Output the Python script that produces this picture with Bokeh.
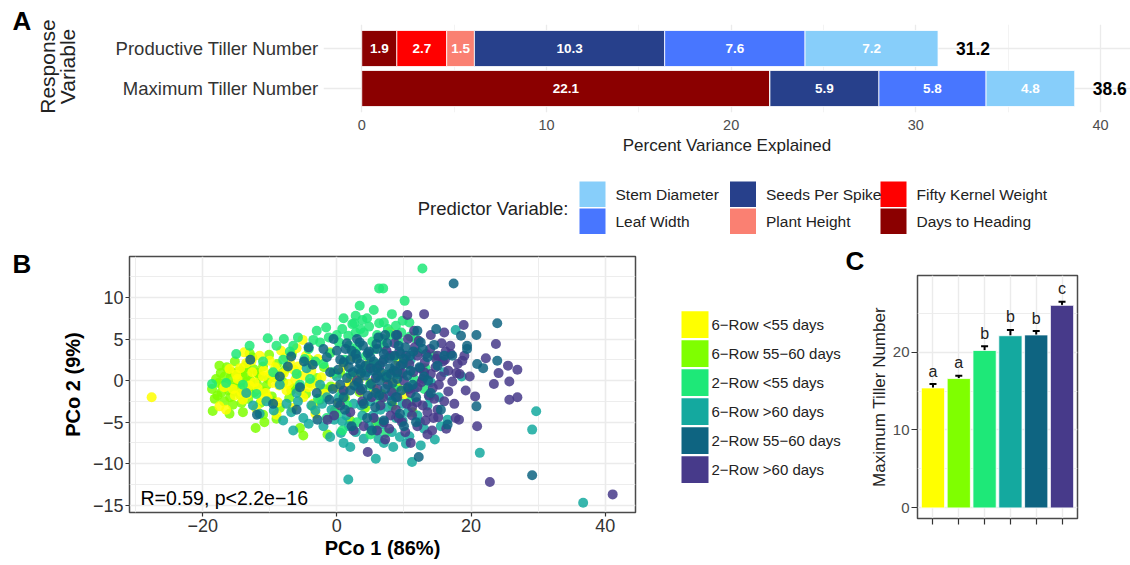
from bokeh.plotting import figure
from bokeh.models import ColumnDataSource, Range1d, FixedTicker, Label, Whisker, TeeHead
from bokeh.layouts import column, row
from bokeh.core.properties import value
from bokeh.embed import file_html
from bokeh.resources import INLINE

FONT = "Liberation Sans"
M = "\u2212"

# ---------------- Panel A data ----------------
responses = ["Maximum Tiller Number", "Productive Tiller Number"]
predictors = ["Days to Heading", "Fifty Kernel Weight", "Plant Height",
              "Seeds Per Spike", "Leaf Width", "Stem Diameter"]
days_to_heading = [22.1, 1.9]
fifty_kernel_weight = [0.0, 2.7]
plant_height = [0.0, 1.5]
seeds_per_spike = [5.9, 10.3]
leaf_width = [5.8, 7.6]
stem_diameter = [4.8, 7.2]
totals = [38.6, 31.2]
legend_order = ["Stem Diameter", "Leaf Width", "Seeds Per Spike",
                "Plant Height", "Fifty Kernel Weight", "Days to Heading"]
pred_colors = {"Stem Diameter": "#87CEFA", "Leaf Width": "#4876FF",
               "Seeds Per Spike": "#27408B", "Plant Height": "#FA8072",
               "Fifty Kernel Weight": "#FF0000", "Days to Heading": "#8B0000"}

# ---------------- Panel B / C data ----------------
group_labels = ["6\u2212Row <55 days", "6\u2212Row 55\u221260 days", "2\u2212Row <55 days",
                "6\u2212Row >60 days", "2\u2212Row 55\u221260 days", "2\u2212Row >60 days"]
group_colors = ["#FFFF00", "#7FFF00", "#1EE878", "#14A99F", "#0E6481", "#473A8A"]

pts_6row_lt55 = [(-27.6,-2.0),(-17.5,-3.1),(-16.0,1.4),(-15.5,-1.0),(-14.8,0.2),(-14.0,-2.3),(-13.5,2.1),
    (-13.0,-0.6),(-12.6,1.0),(-12.0,-3.4),(-11.5,3.0),(-11.0,0.5),(-10.6,-1.5),(-10.0,2.4),(-9.6,-0.3),
    (-9.2,1.6),(-8.8,-2.6),(-8.3,3.6),(-7.9,0.9),(-7.5,-1.2),(-7.0,2.2),(-6.6,-3.3),(-6.2,0.1),(-5.8,1.7),
    (-5.1,4.9),(-5.0,-2.0),(-4.6,3.0),(-4.2,-0.8),(-3.8,1.2),(-3.2,-4.0),(-2.8,2.6),(-2.3,0.4),(-1.8,-1.6),
    (-1.0,3.4),(-0.5,0.8),(0.3,-2.6),(1.0,1.8),(1.8,-0.5),(2.5,2.8),(3.3,0.2),(4.7,2.0),(5.5,-1.0),
    (6.3,1.1),(7.9,5.9),(8.5,-0.2),(10.0,-1.9),(9.2,2.3),(-16.5,-3.5),(-13.8,3.4),(-11.2,-2.3),(-9.0,-4.1),
    (-6.0,3.9),(-3.5,-2.8),(-14.2,-1.4),(-12.3,-0.2),
    (-15.2,-1.8),(-14.4,1.5),(-13.3,-1.6),(-12.7,2.4),(-11.8,-0.9),(-10.9,1.2),(-10.3,-2.1),(-9.8,0.8),
    (-8.6,-0.6),(-7.7,2.8),(-7.2,-0.4),(-6.4,1.3),(-5.5,-1.2),(-4.9,0.6),(-4.0,2.0),(-3.0,-0.5),
    (-16.8,-0.8),(-15.0,0.7),(0.0,-0.8),(2.0,0.0)]
pts_6row_5560 = [(-18.5,-3.65),(-18.6,-1.0),(-18.0,0.2),(-17.8,-1.8),(-17.3,0.9),(-17.0,-0.6),(-16.8,-2.5),
    (-16.4,1.6),(-16.1,-1.2),(-15.8,0.4),(-15.5,-2.9),(-15.2,2.3),(-15.0,-0.2),(-14.7,1.1),(-14.4,-1.7),
    (-14.1,0.6),(-13.8,-0.9),(-13.5,1.8),(-13.2,-2.2),(-12.9,0.0),(-12.6,2.8),(-12.3,-1.4),(-12.1,-5.7),
    (-11.8,0.9),(-11.4,-2.7),(-11.0,1.7),(-10.8,-5.0),(-10.5,-0.6),(-10.1,3.1),(-9.7,-1.9),(-9.3,0.4),
    (-8.9,2.0),(-8.5,-3.3),(-8.0,-0.2),(-7.6,1.4),(-7.1,-2.1),(-6.7,3.2),(-6.3,-0.9),(-5.9,0.8),(-5.5,-5.7),
    (-5.0,-6.6),(-4.6,-1.6),(-4.1,2.5),(-3.6,-3.1),(-3.0,0.3),(-2.5,-2.3),(-1.9,1.6),(-1.4,-6.5),(-0.9,-0.7),
    (-0.3,-3.6),(0.5,0.9),(1.2,-2.1),(2.0,-4.8),(2.7,0.5),(3.4,-1.4),(4.2,-3.3),(5.0,-0.3),(5.8,-5.3),
    (6.6,-1.6),(7.4,0.2),(8.3,-3.0),(9.0,-0.8),(10.4,-1.0),(11.3,-3.8),(-17.5,1.8),(-16.0,-4.0),(-14.0,-3.8),
    (-11.0,-4.1),(-13.0,3.3),(-9.0,-4.6),
    (-18.2,-2.2),(-17.6,-0.3),(-17.2,-1.4),(-16.7,0.5),(-16.3,-0.4),(-15.9,-2.0),(-15.6,1.0),(-15.2,-1.3),
    (-14.9,-0.7),(-14.5,0.9),(-14.2,-2.7),(-13.9,1.5),(-13.6,-0.2),(-13.3,0.7),(-12.8,-1.0),(-12.4,1.4),
    (-11.9,-0.4),(-11.5,0.6),(-10.9,-1.3),(-10.2,0.2),(-9.5,-2.5),(-8.2,0.9),(-6.8,-1.2),(-4.0,-0.3),
    (-2.0,-1.0)]
pts_2row_lt55 = [(-18.6,-0.4),(-15.0,3.2),(-13.0,4.2),(-10.3,5.1),(-7.9,5.0),(-12.0,-1.6),(-9.5,1.0),
    (-6.5,4.2),(-5.5,-0.5),(-4.8,2.6),(-3.5,4.9),(-2.8,-2.2),(-1.6,6.4),(-1.0,3.3),(-0.5,1.0),(0.3,4.6),
    (0.8,-1.5),(1.2,2.5),(1.7,5.4),(2.3,6.8),(2.6,6.9),(2.8,7.8),(3.4,9.0),(3.0,4.0),(3.7,1.2),(4.0,5.8),
    (4.4,3.0),(4.9,-0.6),(5.3,4.7),(5.8,2.0),(6.3,6.9),(6.3,11.1),(6.9,11.1),(7.0,4.1),(7.5,0.7),(8.0,5.5),
    (8.2,8.0),(8.6,2.9),(9.2,4.8),(9.8,7.2),(10.1,9.6),(10.4,2.0),(10.9,5.3),(11.5,0.2),(12.0,3.4),
    (12.75,13.5),(13.2,1.5),(-4.0,0.2),(-2.0,2.0),(0.0,-4.0),(1.5,-3.0),(3.0,-5.0),(2.0,0.8),(4.5,7.5),
    (5.5,8.5),(6.0,5.5),(7.0,7.0),(-8.0,2.5),(-11.0,2.3),(-14.0,-0.5),(-16.5,-0.3),(-3.0,6.0),(0.0,5.5),
    (1.0,7.5),(3.5,6.2),(4.8,1.8),(6.5,-2.5),(8.5,-1.0),(9.5,0.8),(11.0,-2.5),(13.0,-1.0),(14.5,3.0),
    (2.5,3.5),(-1.5,-4.5),(0.8,-6.0),(5.0,-6.5),(6.2,-5.0),(7.3,-6.3),
    (-9.0,4.2),(-7.0,3.5),(-5.8,5.2),(-4.2,3.8),(-2.5,4.6),(-1.2,5.2),(0.8,6.2),(1.8,4.2),(2.8,5.8),
    (3.8,7.3),(4.8,6.5),(5.6,3.8),(6.8,5.0),(7.6,6.2),(8.8,6.6),(9.6,5.8),(10.8,7.0),(11.8,5.0),
    (-6.0,0.8),(-3.2,2.3)]
pts_6row_gt60 = [(-11.5,-4.0),(-9.4,-3.6),(-7.5,-2.8),(-6.0,-1.5),(-5.0,-4.5),(-3.8,-3.0),(-2.5,-0.5),
    (-1.5,-2.0),(-0.4,-4.7),(0.6,-6.3),(0.8,-4.9),(1.8,-5.5),(1.7,-11.9),(2.5,-2.8),(3.2,-0.8),(3.8,-4.2),
    (4.5,1.0),(5.0,-2.5),(5.8,-9.4),(5.9,-6.0),(6.5,-3.5),(7.2,0.5),(7.8,-1.8),(8.4,-8.0),(8.8,-4.5),
    (9.4,-6.8),(9.8,-2.8),(10.3,-7.6),(10.8,-6.7),(11.2,-9.8),(11.5,-1.0),(12.0,-4.2),(12.8,1.5),(13.5,-3.0),
    (14.0,-0.2),(14.6,-7.1),(15.2,-2.0),(16.5,-4.7),(17.7,6.1),(18.6,0.5),(21.3,-8.7),(29.7,-3.7),(29.1,-5.9),
    (36.7,-14.7),(-8.5,-0.5),(-10.5,-2.5),(-4.5,1.5),(0.0,0.5),(2.0,-8.0),(4.0,-7.0),(6.8,-5.3),(9.0,0.8),
    (11.0,2.5),(13.0,-5.8),(15.5,-5.5),(3.0,3.0),(7.0,-7.5),(-2.0,-5.5),(-6.5,-6.0),(-1.0,-6.8),(1.0,-7.5),
    (16.0,1.0),(12.5,-7.8),(-13.5,-1.5),(-12.5,-3.0),
    (-8.0,-4.8),(-6.8,-3.8),(-5.8,-2.5),(-4.2,-5.2),(-3.2,-3.6),(-2.2,-2.8),(-0.8,-3.5),(0.3,-2.0),
    (1.4,-4.2),(2.8,-6.2),(3.6,-3.0),(4.8,-5.5),(5.4,-4.2),(6.2,-7.0),(7.6,-3.2),(8.2,-6.2),(9.8,-4.8),
    (10.6,-3.8),(12.4,-5.0),(13.8,-2.0)]
pts_2row_5560 = [(-12.9,2.5),(-11.9,-4.1),(-7.3,1.7),(-6.8,2.9),(-4.9,2.3),(-3.6,1.9),(-2.9,-4.7),
    (-1.1,-2.3),(0.1,-2.7),(-2.0,3.8),(-1.0,1.0),(0.0,3.6),(0.5,-0.5),(1.0,2.2),(1.5,4.5),(2.0,-1.2),
    (2.4,1.0),(2.8,3.2),(3.2,-0.2),(3.5,2.0),(3.9,4.2),(4.2,0.6),(4.6,-1.8),(5.0,2.8),(5.4,1.2),(5.7,-3.2),
    (6.0,3.8),(6.4,0.0),(6.8,2.2),(7.2,-1.0),(7.5,4.5),(7.9,1.5),(8.2,-2.5),(8.6,3.0),(9.0,0.2),(9.4,-4.0),
    (9.8,2.0),(10.2,4.0),(10.6,-0.8),(11.0,1.2),(11.4,3.5),(11.8,-2.0),(12.2,-9.2),(12.5,4.6),(13.0,0.5),
    (13.5,2.8),(14.0,-1.5),(14.5,4.3),(15.0,1.8),(15.5,-3.5),(16.0,3.0),(17.2,3.0),(17.4,11.7),(18.5,5.4),
    (19.4,4.2),(19.4,3.8),(20.8,5.5),(20.9,2.0),(21.8,1.5),(20.8,-3.1),(23.9,6.9),(23.9,2.4),(29.1,-11.4),
    (-8.5,0.5),(-5.5,-0.8),(-3.0,-1.5),(-0.5,5.0),(1.2,-3.5),(3.0,5.0),(4.5,-4.5),(6.2,5.2),(7.0,-4.8),
    (8.8,5.5),(10.0,-5.5),(12.0,6.0),(14.8,6.2),(16.5,-5.3),(-9.5,-2.8),(-6.0,-3.5),(2.2,-5.5),(5.2,-6.0),
    (1.5,0.3),(3.6,0.9),(6.0,1.5),(8.0,0.8),(9.5,3.2),(4.8,3.5),(2.0,2.5),(11.8,-5.0),(-4.2,4.0),
    (0.5,2.5),(1.3,3.8),(1.8,1.6),(2.6,-0.6),(3.0,2.6),(3.4,4.6),(3.8,-1.0),(4.3,1.8),(4.6,3.3),(5.1,-0.4),
    (5.5,2.3),(5.9,4.4),(6.3,-1.8),(6.6,1.0),(7.0,3.2),(7.4,0.4),(7.8,2.7),(8.3,-0.3),(8.7,1.8),(9.2,4.2),
    (9.6,-1.2),(10.0,2.6),(10.5,0.6),(10.9,3.0),(11.3,-0.5),(12.3,1.6),(12.8,3.8),(13.6,0.0),(-1.5,2.8),
    (-0.6,-1.0),(0.2,1.3),(1.0,-2.0),(2.2,3.6),(4.0,-2.8),(5.8,-1.5),(7.2,5.5),(8.8,-2.0),(3.2,1.4),
    (6.0,0.6),(9.0,1.0)]
pts_2row_gt60 = [(-1.4,-4.7),(-0.4,-4.2),(1.0,-1.2),(2.0,-3.8),(3.0,0.0),(3.8,-2.5),(4.6,-8.6),
    (5.0,1.5),(5.5,-4.5),(6.0,-1.0),(6.5,-3.0),(7.0,2.5),(7.2,-7.1),(7.6,-0.5),(8.0,-4.2),(8.5,1.2),
    (9.0,-2.0),(9.3,3.5),(9.7,-5.0),(10.0,0.0),(10.5,7.9),(10.4,-2.8),(10.8,2.0),(11.2,-4.2),(11.6,4.0),
    (12.0,-0.8),(12.4,1.5),(12.8,-3.0),(13.0,8.0),(13.3,3.2),(13.7,-1.8),(14.0,0.8),(14.4,-4.5),(14.8,2.6),
    (15.2,-0.5),(15.6,4.5),(16.0,-2.5),(16.3,-5.8),(16.6,1.2),(16.9,4.2),(17.2,-0.1),(17.7,-4.5),(18.0,2.0),
    (18.2,-4.7),(18.7,2.4),(18.9,6.7),(19.2,-1.2),(20.6,-1.9),(20.9,-5.5),(22.2,2.7),(23.4,-0.4),(23.7,4.4),
    (24.1,0.9),(25.5,1.8),(25.7,-0.1),(25.7,-2.3),(26.9,1.3),(26.9,-2.0),(22.8,-12.2),(41.1,-13.7),
    (11.0,-7.5),(13.5,-6.5),(15.0,-3.5),(9.0,5.5),(11.5,6.0),(14.0,5.5),(16.0,5.8),(12.0,3.0),(8.0,3.0),
    (6.0,-6.0),(4.0,-5.5),(2.5,-6.0),(17.8,0.9),(19.8,0.5),(15.8,2.3),(13.2,-4.8),(10.2,-6.2),(7.8,-5.8),
    (9.5,1.8),(11.0,-1.5),(12.8,0.2),(14.5,-2.2),(16.2,3.5),(5.2,-2.0),(3.5,-1.2),(0.5,-3.0),
    (5.8,0.3),(6.4,1.8),(6.9,-2.0),(7.4,3.6),(8.2,-1.4),(8.8,-3.5),(9.8,0.9),(10.3,3.0),(10.7,-1.0),
    (11.4,1.0),(11.9,-2.6),(12.2,4.8),(12.6,-0.2),(13.1,2.2),(13.5,-3.8),(13.9,3.8),(14.3,-0.9),(14.7,1.6),
    (15.1,-4.4),(15.5,0.5),(16.1,2.5),(16.6,-1.3),(17.0,3.2),(17.5,-2.8),(18.3,0.8),(19.0,3.0),(10.6,5.0),
    (9.2,-4.5),(12.0,-5.5),(14.2,-6.0),(7.0,-5.0),(8.6,4.5),(11.2,-3.2),(15.0,3.0),(13.0,1.0)]
group_points = [pts_6row_lt55, pts_6row_5560, pts_2row_lt55, pts_6row_gt60, pts_2row_5560, pts_2row_gt60]
draw_order = [1, 0, 3, 2, 5, 4]

tiller_mean = [15.4, 16.6, 20.2, 22.1, 22.2, 26.0]
tiller_se = [0.5, 0.35, 0.55, 0.75, 0.5, 0.45]
tiller_letters = ["a", "a", "b", "b", "b", "c"]


def make_fig(**kw):
    p = figure(output_backend="svg", toolbar_location=None, frame_align=False, **kw)
    p.background_fill_color = "white"
    p.border_fill_color = "white"
    return p


def pixel_fig(x0, x1, y0, y1):
    p = make_fig(width=x1 - x0, height=y1 - y0, x_range=Range1d(x0, x1), y_range=Range1d(y1, y0),
                 x_axis_type=None, y_axis_type=None, min_border=0)
    p.outline_line_color = None
    p.grid.visible = False
    return p


def put_text(p, xs, ys, texts, size, bold=False, angle=0.0, align="left", color="black"):
    p.text(x=xs, y=ys, text=texts, angle=angle, text_align=align, text_baseline="middle",
           text_color=color, text_font_size=size, text_font=value(FONT),
           text_font_style="bold" if bold else "normal")


# ================= Panel A =================
pTL = pixel_fig(0, 100, 0, 165)
put_text(pTL, [12], [20], ["A"], "26px", bold=True)
put_text(pTL, [47, 67], [66, 66], ["Response", "Variable"], "21px", angle=1.5708,
         align="center", color="#222222")

pA = make_fig(width=1030, height=165, x_range=Range1d(-2.07, 41.62), y_range=Range1d(0.4, 2.6),
              min_border_left=223, min_border_right=0, min_border_top=24, min_border_bottom=53)
pA.outline_line_color = None
pred_values = {"Days to Heading": days_to_heading, "Fifty Kernel Weight": fifty_kernel_weight,
               "Plant Height": plant_height, "Seeds Per Spike": seeds_per_spike,
               "Leaf Width": leaf_width, "Stem Diameter": stem_diameter}
ypos = list(range(1, len(responses) + 1))
srcA = ColumnDataSource(dict(y=ypos, **pred_values))
pA.hbar_stack(predictors, y="y", height=0.9, color=[pred_colors[k] for k in predictors],
              line_color="white", line_width=0.8, source=srcA)

lx, ly, lt = [], [], []
for i in range(len(responses)):
    left = 0.0
    for k in predictors:
        v = pred_values[k][i]
        if v > 0:
            lx.append(left + v / 2)
            ly.append(ypos[i])
            lt.append(f"{v:.1f}")
        left += v
pA.text(x=lx, y=ly, text=lt, text_align="center", text_baseline="middle",
        text_color="white", text_font_style="bold", text_font_size="13.5px",
        text_font=value(FONT))
pA.text(x=totals, y=ypos, text=[f"{t:.1f}" for t in totals], x_offset=18,
        text_align="left", text_baseline="middle", text_color="black",
        text_font_style="bold", text_font_size="17.5px", text_font=value(FONT))

pA.xaxis.ticker = FixedTicker(ticks=[0, 10, 20, 30, 40], minor_ticks=[5, 15, 25, 35])
pA.yaxis.ticker = FixedTicker(ticks=ypos)
pA.yaxis.major_label_overrides = {ypos[i]: responses[i] for i in range(len(responses))}
for ax in (pA.xaxis[0], pA.yaxis[0]):
    ax.axis_line_color = None
    ax.major_tick_line_color = None
    ax.minor_tick_line_color = None
    ax.major_tick_in = 0
    ax.major_tick_out = 0
    ax.minor_tick_in = 0
    ax.minor_tick_out = 0
    ax.major_label_text_font = FONT
pA.xaxis.major_label_text_font_size = "14.5px"
pA.xaxis.major_label_text_color = "#4D4D4D"
pA.xaxis.major_label_standoff = 7
pA.xaxis.axis_label = "Percent Variance Explained"
pA.xaxis.axis_label_text_font = FONT
pA.xaxis.axis_label_text_font_size = "17px"
pA.xaxis.axis_label_text_font_style = "normal"
pA.xaxis.axis_label_text_color = "#222222"
pA.xaxis.axis_label_standoff = 3
pA.yaxis.major_label_text_font_size = "18.5px"
pA.yaxis.major_label_text_color = "#333333"
pA.yaxis.major_label_standoff = 5
pA.xgrid.grid_line_color = "#EBEBEB"
pA.xgrid.grid_line_width = 1.3
pA.xgrid.minor_grid_line_color = "#F2F2F2"
pA.xgrid.minor_grid_line_width = 0.9
pA.ygrid.grid_line_color = "#EBEBEB"
pA.ygrid.grid_line_width = 1.3

# ================= Panel A legend =================
pLA = pixel_fig(0, 1130, 165, 243)
kl = [579 + 150.5 * (i // 2) for i in range(len(legend_order))]
kt = [181 + 27 * (i % 2) for i in range(len(legend_order))]
pLA.quad(left=kl, right=[v + 26 for v in kl], top=kt, bottom=[v + 25.5 for v in kt],
         fill_color=[pred_colors[k] for k in legend_order], line_color=None)
put_text(pLA, [v + 36 for v in kl], [v + 13 for v in kt], legend_order, "15.5px", color="#222222")
put_text(pLA, [568], [207.5], ["Predictor Variable:"], "18.5px", align="right", color="#222222")

# ================= Panel B =================
pBL = pixel_fig(0, 58, 243, 565)
put_text(pBL, [12], [263], ["B"], "26px", bold=True)

pB = make_fig(width=587, height=322, x_range=Range1d(-30.9, 44.5), y_range=Range1d(-15.88, 14.94),
              min_border_left=70, min_border_right=10, min_border_top=13, min_border_bottom=53)
pB.outline_line_color = "#4A4A4A"
pB.outline_line_width = 1.5
pB.xaxis.ticker = FixedTicker(ticks=[-20, 0, 20, 40], minor_ticks=[-30, -10, 10, 30])
pB.yaxis.ticker = FixedTicker(ticks=[-15, -10, -5, 0, 5, 10],
                              minor_ticks=[-12.5, -7.5, -2.5, 2.5, 7.5, 12.5])
pB.xaxis.major_label_overrides = {t: (M + str(-t) if t < 0 else str(t)) for t in [-20, 0, 20, 40]}
pB.yaxis.major_label_overrides = {t: (M + str(-t) if t < 0 else str(t)) for t in [-15, -10, -5, 0, 5, 10]}
for ax in (pB.xaxis[0], pB.yaxis[0]):
    ax.axis_line_color = None
    ax.major_tick_line_color = "#333333"
    ax.major_tick_line_width = 1.2
    ax.major_tick_in = 0
    ax.major_tick_out = 4
    ax.minor_tick_line_color = None
    ax.minor_tick_in = 0
    ax.minor_tick_out = 0
    ax.major_label_text_font = FONT
    ax.major_label_text_font_size = "18px"
    ax.major_label_text_color = "#333333"
    ax.major_label_standoff = 2
    ax.axis_label_text_font = FONT
    ax.axis_label_text_font_size = "20px"
    ax.axis_label_text_font_style = "bold"
    ax.axis_label_text_color = "black"
    ax.axis_label_standoff = 2
pB.yaxis.axis_label_standoff = 6
pB.xaxis.axis_label = "PCo 1 (86%)"
pB.yaxis.axis_label = "PCo 2 (9%)"
for g in (pB.xgrid[0], pB.ygrid[0]):
    g.grid_line_color = "#EBEBEB"
    g.grid_line_width = 1.6
    g.minor_grid_line_color = "#EBEBEB"
    g.minor_grid_line_width = 0.9
for gi in draw_order:
    pts = group_points[gi]
    pB.scatter(x=[q[0] for q in pts], y=[q[1] for q in pts], size=10,
               fill_color=group_colors[gi], fill_alpha=0.85, line_color=None)
pB.add_layout(Label(x=11, y=15, x_units="screen", y_units="screen",
                    text="R=0.59, p<2.2e" + M + "16", text_font=FONT, text_font_size="19.5px",
                    text_baseline="middle", text_align="left", text_color="black"))

# ================= Panel B legend (+ C letter) =================
pLB = pixel_fig(645, 866, 243, 565)
bt = [310.7 + 29 * i for i in range(len(group_labels))]
pLB.quad(left=[681] * len(bt), right=[708] * len(bt), top=bt, bottom=[v + 26.7 for v in bt],
         fill_color=group_colors, line_color=None)
put_text(pLB, [711] * len(bt), [v + 13.5 for v in bt], group_labels, "15px", color="#222222")
put_text(pLB, [845], [260], ["C"], "26px", bold=True)

# ================= Panel C =================
pC = make_fig(width=264, height=322, x_range=Range1d(0.4, 6.6), y_range=Range1d(-1.36, 29.83),
              min_border_left=48, min_border_right=53, min_border_top=32, min_border_bottom=47)
pC.outline_line_color = "#4A4A4A"
pC.outline_line_width = 1.5
xc = list(range(1, len(tiller_mean) + 1))
srcC = ColumnDataSource(dict(x=xc, mean=tiller_mean, color=group_colors,
                             up=[m + s for m, s in zip(tiller_mean, tiller_se)],
                             lo=[m - s for m, s in zip(tiller_mean, tiller_se)],
                             letter=tiller_letters))
pC.vbar(x="x", top="mean", bottom=0, width=0.9, fill_color="color", line_color="white",
        line_width=0.8, source=srcC)
pC.add_layout(Whisker(source=srcC, base="x", upper="up", lower="lo", line_color="black",
                      line_width=2,
                      upper_head=TeeHead(size=7, line_width=2, line_color="black"),
                      lower_head=TeeHead(size=7, line_width=2, line_color="black")))
pC.text(x="x", y="up", text="letter", y_offset=-13, text_align="center",
        text_baseline="middle", text_color="#222222", text_font_size="16px",
        text_font=value(FONT), source=srcC)
pC.xaxis.ticker = FixedTicker(ticks=xc)
pC.xaxis.major_label_overrides = {i: "" for i in xc}
pC.yaxis.ticker = FixedTicker(ticks=[0, 10, 20], minor_ticks=[5, 15, 25])
for ax in (pC.xaxis[0], pC.yaxis[0]):
    ax.axis_line_color = None
    ax.major_tick_line_color = "#333333"
    ax.major_tick_line_width = 1.2
    ax.major_tick_in = 0
    ax.major_tick_out = 6
    ax.minor_tick_line_color = None
    ax.minor_tick_in = 0
    ax.minor_tick_out = 0
    ax.major_label_text_font = FONT
pC.yaxis.major_label_text_font_size = "15px"
pC.yaxis.major_label_text_color = "#4D4D4D"
pC.yaxis.major_label_standoff = 2
pC.yaxis.axis_label = "Maximum Tiller Number"
pC.yaxis.axis_label_text_font = FONT
pC.yaxis.axis_label_text_font_size = "17px"
pC.yaxis.axis_label_text_font_style = "normal"
pC.yaxis.axis_label_text_color = "#222222"
pC.yaxis.axis_label_standoff = 1
for g in (pC.xgrid[0], pC.ygrid[0]):
    g.grid_line_color = "#EBEBEB"
    g.grid_line_width = 1.4
    g.minor_grid_line_color = "#EBEBEB"
    g.minor_grid_line_width = 0.9

layout = column(row(pTL, pA), pLA, row(pBL, pB, pLB, pC))
open("out.html", "w").write(file_html(layout, INLINE))
